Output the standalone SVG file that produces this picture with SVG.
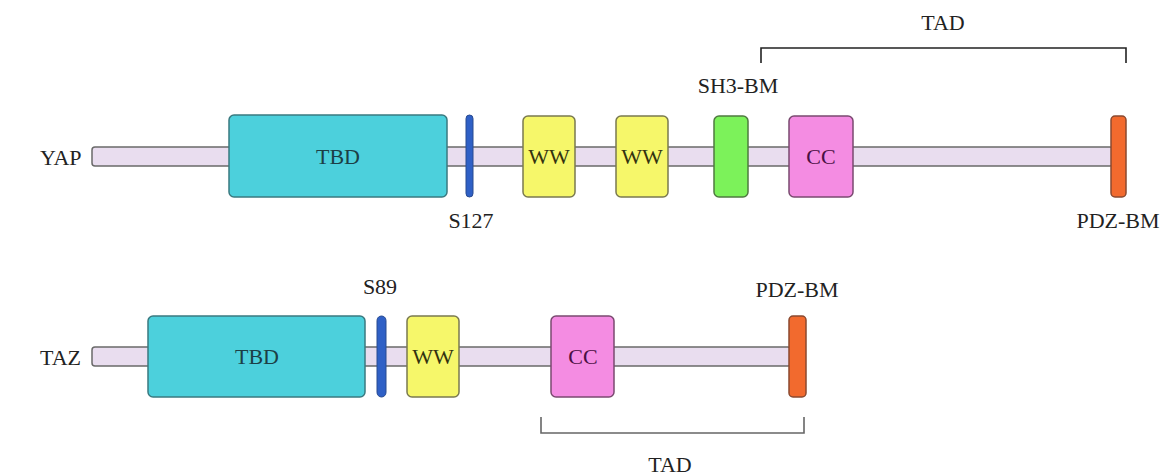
<svg xmlns="http://www.w3.org/2000/svg" width="1166" height="475" viewBox="0 0 1166 475">
<style>
text{font-family:"Liberation Serif","Times New Roman",serif;font-size:22px;fill:#222;}
.c{text-anchor:middle;}
.bb{fill:#e9ddef;stroke:#6a6a6a;stroke-width:1.5;}
.tbd{fill:#4cd0dc;stroke:#3a7a80;stroke-width:1.5;}
.ww{fill:#f6f76a;stroke:#7a7a50;stroke-width:1.5;}
.sh3{fill:#7cf25a;stroke:#4f7a40;stroke-width:1.5;}
.cc{fill:#f48ce2;stroke:#7a4a70;stroke-width:1.5;}
.pdz{fill:#f26a2e;stroke:#8a4a30;stroke-width:1.5;}
.ser{fill:#2f60c6;stroke:#284a90;stroke-width:1;}
.br{fill:none;stroke-width:1.6;}
</style>
<g id="yap">
<text x="40" y="165">YAP</text>
<rect class="bb" x="92" y="147" width="1021" height="19" rx="3"/>
</g>
<g id="yap-tbd"><rect class="tbd" x="229" y="115" width="218" height="82" rx="5"/><text class="c" x="338" y="164" style="fill:#1c3f46">TBD</text></g>
<g id="yap-s127"><rect class="ser" x="466" y="115" width="7" height="82" rx="3.5"/><text class="c" x="471" y="228">S127</text></g>
<g id="yap-ww1"><rect class="ww" x="523" y="116" width="52" height="81" rx="5"/><text class="c" x="549" y="164" style="fill:#333310">WW</text></g>
<g id="yap-ww2"><rect class="ww" x="616" y="116" width="52" height="81" rx="5"/><text class="c" x="642" y="164" style="fill:#333310">WW</text></g>
<g id="yap-sh3"><rect class="sh3" x="714" y="116" width="34" height="81" rx="5"/><text class="c" x="738" y="93">SH3-BM</text></g>
<g id="yap-cc"><rect class="cc" x="789" y="116" width="64" height="81" rx="5"/><text class="c" x="821" y="164" style="fill:#4a1042">CC</text></g>
<g id="yap-pdz"><rect class="pdz" x="1111" y="116" width="15" height="81" rx="4"/><text class="c" x="1118" y="228">PDZ-BM</text></g>
<g id="taz">
<text x="40" y="365">TAZ</text>
<rect class="bb" x="92" y="347" width="699" height="19" rx="3"/>
</g>
<g id="taz-tbd"><rect class="tbd" x="148" y="316" width="217" height="81" rx="5"/><text class="c" x="257" y="364" style="fill:#1c3f46">TBD</text></g>
<g id="taz-s89"><rect class="ser" x="377" y="316" width="9" height="81" rx="4.5"/><text class="c" x="380" y="294">S89</text></g>
<g id="taz-ww"><rect class="ww" x="407" y="316" width="52" height="81" rx="5"/><text class="c" x="433" y="364" style="fill:#333310">WW</text></g>
<g id="taz-cc"><rect class="cc" x="551" y="316" width="63" height="81" rx="5"/><text class="c" x="583" y="364" style="fill:#4a1042">CC</text></g>
<g id="taz-pdz"><rect class="pdz" x="789" y="316" width="17" height="81" rx="4"/><text class="c" x="797" y="297">PDZ-BM</text></g>
<g id="connectors">
<path class="br" d="M761 63 V48 H1126 V63" stroke="#222"/>
<path class="br" d="M541 417 V433 H804 V417" stroke="#666"/>
</g>
<g id="labels">
<text class="c" x="943" y="30">TAD</text>
<text class="c" x="670" y="472">TAD</text>
</g>
</svg>
